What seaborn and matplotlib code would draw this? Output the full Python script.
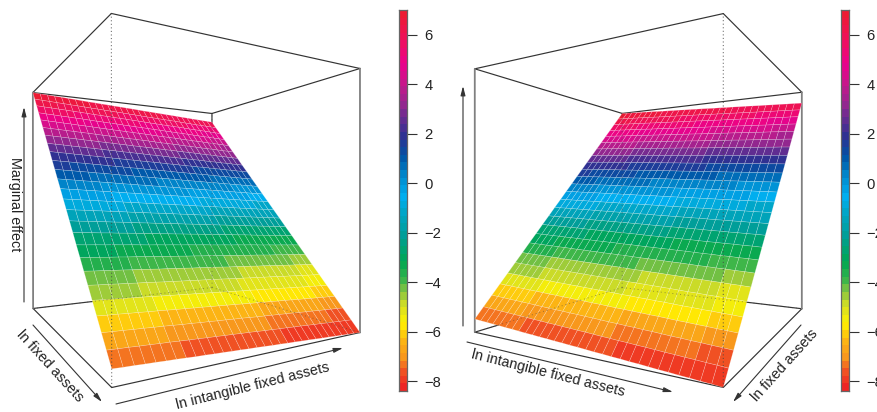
# -*- coding: utf-8 -*-
import numpy as np
import matplotlib
matplotlib.use('Agg')
import matplotlib.pyplot as plt
import seaborn as sns
from matplotlib.collections import PolyCollection
from matplotlib.colors import BoundaryNorm, LinearSegmentedColormap, ListedColormap

# ---------------------------------------------------------------------------
# DATA
# ---------------------------------------------------------------------------
# height of the surface along "ln fixed assets", back to front
z_by_fixed = [7.00, 6.41, 5.83, 5.24, 4.66, 4.07, 3.49, 2.90, 2.32, 1.73, 1.15, 0.56, -0.02,
              -0.61, -1.19, -1.78, -2.36, -2.95, -3.53, -4.12, -4.70, -5.29, -5.87, -6.46,
              -7.04, -7.63]
# drop of the surface along "ln intangible fixed assets"
drop_by_intangible = [0.00, -0.03, -0.05, -0.08, -0.10, -0.13, -0.15, -0.18, -0.21, -0.23, -0.26,
                      -0.28, -0.31, -0.33, -0.36, -0.38, -0.41, -0.44, -0.46, -0.49, -0.51, -0.54,
                      -0.56, -0.59, -0.62, -0.64, -0.67, -0.69, -0.72, -0.74, -0.77]
# value each row of cells is coloured by, and its shift along the row
row_value = [6.71, 6.13, 5.55, 4.97, 4.39, 3.81, 3.23, 2.65, 2.07, 1.49, 0.91, 0.33, -0.25,
             -0.81, -1.39, -1.97, -2.55, -3.10, -3.67, -4.28, -4.60, -5.20, -6.12, -6.72, -7.28]
col_shift = [0.00, -0.02, -0.04, -0.06, -0.08, -0.12, -0.18, -0.28, -0.33, -0.34, -0.35, -0.36,
             -0.37, -0.38, -0.39, -0.40, -0.41, -0.42, -0.46, -0.58, -0.64, -0.65, -0.66, -0.67,
             -0.68, -0.69, -0.72, -0.76, -0.78, -0.80]
z_limits = [-8.4, 7.0]
n_levels = 50
bar_ticks = [6, 4, 2, 0, -2, -4, -6, -8]
bar_tick_labels = ['6', '4', '2', '0', '\u22122', '\u22124', '\u22126', '\u22128']

palette_z = [-8.4, -7.7, -7.1, -6.3, -5.7, -5.0, -4.4, -3.9, -3.2, -2.1, -1.3, -0.55, 0.3, 1.1,
             1.9, 2.6, 3.2, 4.0, 4.85, 5.7, 7.0]
palette_colors = ['#ED1C24', '#F04E23', '#F7941D', '#FDB913', '#FFF200', '#D7DF23', '#8DC63F',
                  '#39B54A', '#00A651', '#009E9A', '#00A4C0', '#00AEEF', '#0088CC', '#0054A6',
                  '#2E3192', '#662D91', '#92278F', '#C4188B', '#EC008C', '#EE0F60', '#ED1C2E']

# corners of the box on the page, (intangible, fixed, height) -> (x, y)
box_corners = [(0, 0, 0), (0, 1, 0), (1, 1, 0), (1, 0, 0), (0, 0, 1), (0, 1, 1), (1, 1, 1), (1, 0, 1)]
left_view = [(33, 308), (112, 388), (360, 332), (212, 288), (33, 93), (111, 13), (360, 69), (212, 113)]
right_view = [(622, 288), (475, 332), (723, 388), (802, 308), (622, 113), (475, 69), (723, 13), (802, 93)]

LINE = '#333333'
EDGE = '#808080'
FONT = ['Liberation Sans', 'DejaVu Sans']

sns.set_theme(style='white')
plt.rcParams['font.family'] = FONT

level_edges = np.linspace(z_limits[0], z_limits[1], n_levels + 1)
cmap_cont = LinearSegmentedColormap.from_list(
    'bar', [((z - z_limits[0]) / (z_limits[1] - z_limits[0]), c) for z, c in zip(palette_z, palette_colors)])
level_cmap = ListedColormap([cmap_cont((i + 0.5) / n_levels) for i in range(n_levels)])
level_norm = BoundaryNorm(level_edges, n_levels)


# ---------------------------------------------------------------------------
# PROJECTION
# ---------------------------------------------------------------------------
def camera_from_corners(view):
    filas = []
    for (u, v, w), (x, y) in zip(box_corners, view):
        filas.append([u, v, w, 1, 0, 0, 0, 0, -x * u, -x * v, -x * w, -x])
        filas.append([0, 0, 0, 0, u, v, w, 1, -y * u, -y * v, -y * w, -y])
    _, _, vt = np.linalg.svd(np.array(filas, dtype=float))
    return vt[-1].reshape(3, 4)


def project(cam, u, v, w):
    u, v, w = np.broadcast_arrays(np.asarray(u, float), np.asarray(v, float), np.asarray(w, float))
    pts = np.stack([u, v, w, np.ones_like(u)], axis=-1)
    p = pts @ cam.T
    return p[..., 0] / p[..., 2], p[..., 1] / p[..., 2]


def box_line(ax, cam, a, b, **kw):
    xa, ya = project(cam, *a)
    xb, yb = project(cam, *b)
    ax.plot([xa, xb], [ya, yb], solid_capstyle='round', **kw)


# ---------------------------------------------------------------------------
# ONE 3D PANEL
# ---------------------------------------------------------------------------
def draw_panel(ax, view, near_u, arrows, labels):
    cam = camera_from_corners(view)
    z = np.array(z_by_fixed)[:, None] + np.array(drop_by_intangible)[None, :]
    n_v, n_u = z.shape
    u, v = np.meshgrid(np.arange(n_u) / (n_u - 1), np.arange(n_v) / (n_v - 1))
    w = (z - z_limits[0]) / (z_limits[1] - z_limits[0])
    px, py = project(cam, u, v, w)

    polys, values = [], []
    for i in range(n_v - 1):
        for j in range(n_u - 1):
            polys.append([(px[i, j], py[i, j]), (px[i, j + 1], py[i, j + 1]),
                          (px[i + 1, j + 1], py[i + 1, j + 1]), (px[i + 1, j], py[i + 1, j])])
            values.append(row_value[i] + col_shift[j])
    surface = PolyCollection(polys, array=np.array(values), cmap=level_cmap, norm=level_norm,
                             edgecolors=(1, 1, 1, 0.32), linewidths=0.4, zorder=3)
    ax.add_collection(surface)

    far_u = 1 - near_u
    solid = dict(color=LINE, lw=0.85, zorder=2)
    # top of the box
    for a, b in [((0, 0, 1), (0, 1, 1)), ((0, 1, 1), (1, 1, 1)), ((1, 1, 1), (1, 0, 1)), ((1, 0, 1), (0, 0, 1))]:
        box_line(ax, cam, a, b, **solid)
    # floor and back edge, the surface hides what lies behind it
    box_line(ax, cam, (0, 1, 0), (1, 1, 0), **solid)
    box_line(ax, cam, (near_u, 0, 0), (near_u, 1, 0), **solid)
    box_line(ax, cam, (far_u, 0, 0), (far_u, 1, 0), **solid)
    box_line(ax, cam, (0, 0, 0), (1, 0, 0), **solid)
    box_line(ax, cam, (far_u, 0, 0), (far_u, 0, 1), **solid)
    # upright side edges
    box_line(ax, cam, (near_u, 0, 0), (near_u, 0, 1), color=EDGE, lw=1.3, zorder=2.5)
    box_line(ax, cam, (far_u, 1, 0), (far_u, 1, 1), color=EDGE, lw=1.3, zorder=2.5)

    # hidden edges, dotted over everything
    near = dict(color='#444444', lw=0.8, ls=(0, (1, 2.2)), alpha=0.75, zorder=4)
    far = dict(color='#444444', lw=0.7, ls=(0, (1, 3)), alpha=0.5, zorder=4)
    box_line(ax, cam, (near_u, 1, 0), (near_u, 1, 1), **near)
    box_line(ax, cam, (far_u, 0, 0), (far_u, 0, 1), **far)
    box_line(ax, cam, (0, 0, 0), (1, 0, 0), **far)
    box_line(ax, cam, (far_u, 0, 0), (far_u, 1, 0), **far)

    for start, end in arrows:
        ax.annotate('', xy=end, xytext=start,
                    arrowprops=dict(arrowstyle='-|>,head_length=0.55,head_width=0.14', color=LINE,
                                    lw=0.8, shrinkA=0, shrinkB=0, mutation_scale=10), zorder=5)
    for text, pos, rot in labels:
        ax.text(pos[0], pos[1], text, rotation=rot, rotation_mode='anchor', ha='center', va='center',
                fontsize=10.4, color='#222222', zorder=6)


# ---------------------------------------------------------------------------
# COLOUR BAR
# ---------------------------------------------------------------------------
def draw_bar(fig, x0):
    W, H = fig.get_size_inches() * fig.dpi
    ax = fig.add_axes([x0 / W, 1 - 391 / H, 8 / W, 381 / H])
    mids = (level_edges[:-1] + level_edges[1:])[::-1] / 2
    sns.heatmap(mids[:, None], cmap=level_cmap, norm=level_norm, cbar=False,
                xticklabels=False, yticklabels=False, ax=ax)
    ax.set_yticks([(z_limits[1] - t) / (z_limits[1] - z_limits[0]) * n_levels for t in bar_ticks])
    ax.set_yticklabels(bar_tick_labels, rotation=0, fontsize=10.6, color='#222222')
    ax.tick_params(axis='y', left=False, right=True, labelleft=False, labelright=True,
                   length=7.2, width=0.8, color=LINE, pad=5.5)
    for s in ax.spines.values():
        s.set_visible(True)
        s.set_color('#666666')
        s.set_linewidth(0.9)


# ---------------------------------------------------------------------------
# MAIN
# ---------------------------------------------------------------------------
def main():
    fig = plt.figure(figsize=(8.77, 4.12), dpi=100)
    ax = fig.add_axes([0, 0, 1, 1])
    ax.set_xlim(0, 877)
    ax.set_ylim(412, 0)
    ax.axis('off')

    draw_panel(ax, left_view, 0,
               arrows=[((24, 302), (24, 107)), ((33, 325), (102, 402)), ((116, 404), (343, 348))],
               labels=[('Marginal effect', (15, 204), -90),
                       ('ln fixed assets', (50, 366), -47.5),
                       ('ln intangible fixed assets', (253, 386), 14)])
    draw_panel(ax, right_view, 1,
               arrows=[((463, 326), (463, 86)), ((467, 342), (673, 392)), ((801, 325), (733, 402))],
               labels=[('ln intangible fixed assets', (548, 373), -14),
                       ('ln fixed assets', (785, 365), 48)])

    draw_bar(fig, 399)
    draw_bar(fig, 841)

    fig.savefig('out.png', dpi=100)


if __name__ == '__main__':
    main()
